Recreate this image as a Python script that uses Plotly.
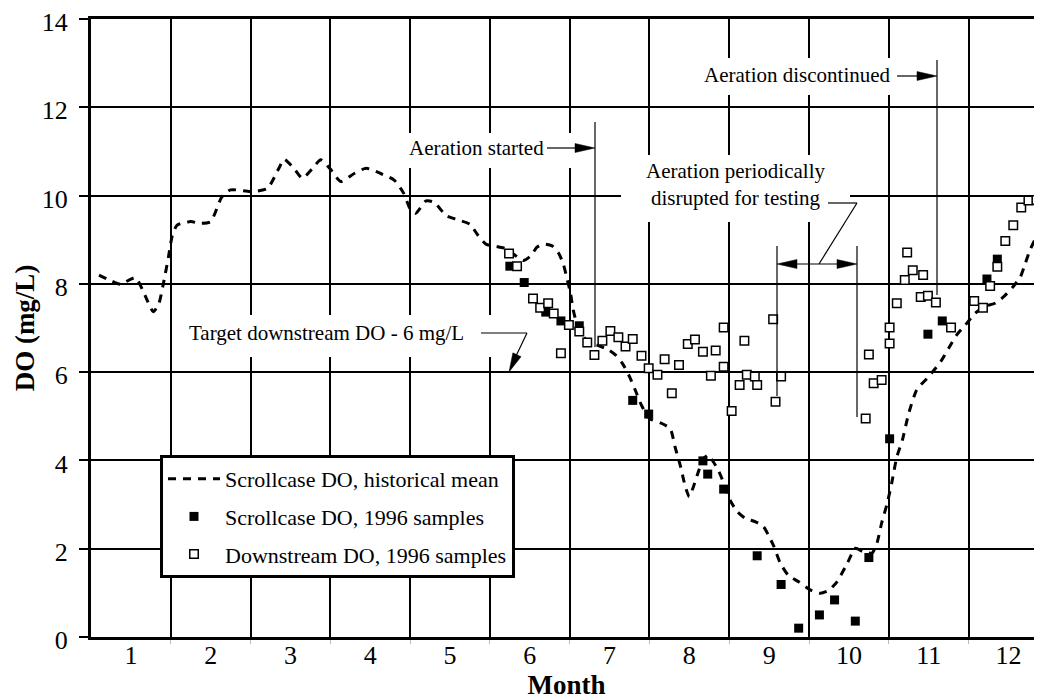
import plotly.graph_objects as go

# ---------------- data ----------------
month_ticks = list(range(1, 13))
month_labels = [str(m) for m in month_ticks]
y_ticks = [0, 2, 4, 6, 8, 10, 12, 14]

hist_month = [0.60, 0.75, 0.87, 0.97, 1.06, 1.15, 1.28, 1.35, 1.40, 1.47, 1.52, 1.58, 1.75, 1.87, 2.00,
              2.14, 2.25, 2.50, 2.71, 2.85, 2.92, 3.05, 3.15, 3.27, 3.38, 3.50, 3.63, 3.80, 3.95, 4.13,
              4.30, 4.42, 4.50, 4.57, 4.70, 4.80, 4.95, 5.10, 5.25, 5.35, 5.45, 5.60, 5.70, 5.85, 5.92,
              6.01, 6.09, 6.17, 6.28, 6.36, 6.42, 6.47, 6.51, 6.54, 6.58, 6.64, 6.75, 6.86, 6.99, 7.08,
              7.16, 7.25, 7.32, 7.40, 7.50, 7.64, 7.76, 7.82, 7.89, 7.95, 8.00, 8.05, 8.12, 8.18, 8.24,
              8.30, 8.37, 8.45, 8.51, 8.60, 8.70, 8.83, 8.93, 8.99, 9.06, 9.14, 9.24, 9.37, 9.52, 9.64,
              9.75, 9.85, 9.98, 10.08, 10.18, 10.29, 10.35, 10.41, 10.48, 10.54, 10.60, 10.67, 10.75,
              10.85, 11.00, 11.15, 11.25, 11.35, 11.46, 11.58, 11.69, 11.83, 11.94, 12.06, 12.15, 12.21,
              12.27, 12.34, 12.45]
hist_do = [8.20, 8.07, 7.99, 8.08, 8.14, 7.85, 7.37, 7.55, 7.94, 8.60, 9.10, 9.33, 9.41, 9.37, 9.41,
           9.97, 10.13, 10.09, 10.16, 10.60, 10.82, 10.60, 10.39, 10.60, 10.81, 10.60, 10.32, 10.50, 10.62, 10.50,
           10.35, 10.05, 9.70, 9.60, 9.88, 9.85, 9.55, 9.45, 9.35, 9.10, 8.90, 8.84, 8.80, 8.60, 8.53,
           8.63, 8.83, 8.90, 8.86, 8.70, 8.45, 8.09, 7.79, 7.45, 7.15, 6.88, 6.66, 6.60, 6.50, 6.38,
           6.20, 5.90, 5.60, 5.25, 4.95, 4.85, 4.72, 4.31, 3.86, 3.40, 3.18, 3.40, 3.78, 4.05, 4.12,
           3.97, 3.75, 3.40, 3.10, 2.84, 2.69, 2.61, 2.50, 2.31, 2.05, 1.67, 1.40, 1.25, 1.06, 0.99,
           1.06, 1.25, 1.67, 2.01, 1.93, 1.90, 2.12, 2.58, 3.03, 3.52, 4.08, 4.46, 5.07,
           5.60, 5.90, 6.24, 6.54, 6.84, 7.07, 7.33, 7.48, 7.56, 7.71, 7.94, 8.16, 8.46,
           8.77, 9.03, 9.35]

scroll_month = [5.75, 5.93, 6.20, 6.39, 6.62, 7.29, 7.49, 8.17, 8.23, 8.43, 8.85, 9.15, 9.37, 9.63,
                9.82, 10.08, 10.25, 10.51, 10.99, 11.17, 11.73, 11.86]
scroll_do = [8.40, 8.03, 7.36, 7.16, 7.05, 5.36, 5.05, 3.99, 3.69, 3.35, 1.84, 1.19, 0.20, 0.50,
             0.84, 0.36, 1.80, 4.49, 6.86, 7.16, 8.11, 8.56]

down_month = [5.74, 5.84, 6.04, 6.13, 6.23, 6.30, 6.39, 6.49, 6.62, 6.72, 6.81, 6.91, 7.01, 7.11,
              7.20, 7.29, 7.40, 7.49, 7.60, 7.69, 7.78, 7.87, 7.98, 8.07, 8.17, 8.27, 8.33, 8.43,
              8.43, 8.53, 8.63, 8.69, 8.72, 8.82, 8.85, 9.05, 9.08, 9.15, 10.21, 10.25, 10.31,
              10.41, 10.51, 10.51, 10.60, 10.70, 10.73, 10.80, 10.90, 10.93, 10.99, 11.09, 11.28,
              11.57, 11.68, 11.77, 11.86, 11.96, 12.06, 12.16, 12.25, 12.35, 12.43]
down_do = [8.69, 8.40, 7.67, 7.46, 7.56, 7.33, 6.43, 7.07, 6.92, 6.67, 6.39, 6.71, 6.93, 6.79,
           6.58, 6.75, 6.37, 6.09, 5.94, 6.29, 5.52, 6.16, 6.64, 6.74, 6.46, 5.92, 6.49, 7.01,
           6.12, 5.12, 5.71, 6.71, 5.94, 5.90, 5.71, 7.20, 5.33, 5.90, 4.95, 6.40, 5.75,
           5.82, 6.65, 7.01, 7.56, 8.09, 8.71, 8.31, 7.70, 8.20, 7.73, 7.58, 7.01,
           7.61, 7.46, 7.95, 8.39, 8.97, 9.33, 9.73, 9.89, 9.90, 10.04]

# ---------------- geometry ----------------
# page body has an 8px margin, so the figure is shifted by 8px in the window
OFF = 8
W, H = 1042 - OFF, 700 - OFF
# plot area in window pixels
PL, PT, PR, PB = 91, 19, 1042, 637
ML, MT = PL - OFF, PT - OFF
MR = W - (PR - OFF)
MB = H - (PB - OFF)
XR = [0.5, 12.42]
YR = [0, 14]
PW, PH = PR - PL, PB - PT


def dx(px):
    return XR[0] + (px - PL) / PW * (XR[1] - XR[0])


def dy(py):
    return YR[1] - (py - PT) / PH * (YR[1] - YR[0])


FONT = "Liberation Serif, Times New Roman, Times, serif"

fig = go.Figure()
fig.add_trace(go.Scatter(x=hist_month, y=hist_do, mode="lines", name="Scrollcase DO, historical mean",
                         line=dict(color="black", width=3, dash="8px,7px", shape="spline", smoothing=0.6),
                         legendgroup="a"))
fig.add_trace(go.Scatter(x=scroll_month, y=scroll_do, mode="markers", name="Scrollcase DO, 1996 samples",
                         marker=dict(symbol="square", size=9, color="black", line=dict(width=0)),
                         legendgroup="b"))
fig.add_trace(go.Scatter(x=down_month, y=down_do, mode="markers", name="Downstream DO, 1996 samples",
                         marker=dict(symbol="square", size=8.5, color="white", line=dict(color="black", width=1.5)),
                         legendgroup="c"))

shapes = []
# white boxes behind annotation texts (hide gridlines)
for (x0, y0, x1, y1) in [(176, 315, 500, 357), (400, 133, 590, 168), (621, 155, 850, 222), (700, 58, 895, 95)]:
    shapes.append(dict(type="rect", xref="x", yref="y", x0=dx(x0), x1=dx(x1), y0=dy(y0), y1=dy(y1),
                       fillcolor="white", line=dict(width=0), layer="between"))


def seg(p0, p1, w=1.2):
    shapes.append(dict(type="line", xref="x", yref="y", x0=dx(p0[0]), y0=dy(p0[1]), x1=dx(p1[0]), y1=dy(p1[1]),
                       line=dict(color="black", width=w), layer="above"))


def head(tip, base_c, half=4.5):
    tx, ty = tip
    bx, by = base_c
    vx, vy = tx - bx, ty - by
    L = (vx * vx + vy * vy) ** 0.5
    nx, ny = -vy / L, vx / L
    p1 = (bx + nx * half, by + ny * half)
    p2 = (bx - nx * half, by - ny * half)
    path = "M {},{} L {},{} L {},{} Z".format(dx(tx), dy(ty), dx(p1[0]), dy(p1[1]), dx(p2[0]), dy(p2[1]))
    shapes.append(dict(type="path", xref="x", yref="y", path=path, fillcolor="black",
                       line=dict(color="black", width=0.5), layer="above"))


# vertical event markers
seg((595, 122), (595, 347))
seg((937, 60), (937, 295))
seg((777, 246), (777, 396))
seg((857, 246), (857, 417))
# Aeration started arrow
seg((547, 148), (577, 148))
head((595, 148), (575, 148))
# Aeration discontinued arrow
seg((897, 76), (919, 76))
head((937, 76), (917, 76))
# Target leader + arrow
seg((481, 333), (527, 333))
seg((527, 333), (516, 356))
ux, uy = (509 - 527), (372 - 333)
ul = (ux * ux + uy * uy) ** 0.5
head((509, 372), (509 - ux / ul * 19, 372 - uy / ul * 19))
# disrupted leader + double arrow
seg((828, 203), (857, 203))
seg((857, 203), (819, 264))
seg((795, 264), (839, 264))
head((777, 264), (797, 264))
head((857, 264), (837, 264))

annots = []
for txt, cx, cy in [("Target downstream DO - 6 mg/L", 326.5, 333),
                    ("Aeration started", 476.5, 148),
                    ("Aeration periodically<br>disrupted for testing", 736, 184),
                    ("Aeration discontinued", 797.5, 75)]:
    annots.append(dict(x=dx(cx), y=dy(cy), xref="x", yref="y", text=txt, showarrow=False,
                       xanchor="center", yanchor="middle", font=dict(family=FONT, size=21, color="black")))

fig.update_layout(
    width=W, height=H,
    margin=dict(l=ML, r=MR, t=MT, b=MB, autoexpand=False),
    paper_bgcolor="white", plot_bgcolor="white",
    font=dict(family=FONT, color="black"),
    shapes=shapes, annotations=annots,
    legend=dict(x=(160 - PL) / PW, y=(PB - 455) / PH, xanchor="left", yanchor="top",
                bgcolor="white", bordercolor="black", borderwidth=3,
                font=dict(family=FONT, size=22, color="black"),
                itemwidth=52, traceorder="grouped", tracegroupgap=6),
    xaxis=dict(range=XR, tickmode="array", tickvals=month_ticks, ticktext=month_labels, ticks="",
               showgrid=False, zeroline=False, showline=True, linewidth=3, linecolor="black", mirror=True,
               tickfont=dict(family=FONT, size=26, color="black"), ticklabelstandoff=-7,
               ticklabeloverflow="allow",
               minor=dict(tickmode="array", tickvals=[m + 0.5 for m in month_ticks[:-1]], showgrid=True,
                          gridcolor="black", gridwidth=1.5, ticks="outside", ticklen=4, tickcolor="#bbbbbb"),
               title=dict(text="<b>Month</b>", font=dict(family=FONT, size=27, color="black"), standoff=13)),
    yaxis=dict(range=YR, tickmode="array", tickvals=y_ticks, ticks="outside", ticklen=9, tickwidth=1.5,
               tickcolor="black", showgrid=True, gridcolor="black", gridwidth=1.5, zeroline=False,
               showline=True, linewidth=3, linecolor="black", ticklabelstandoff=6, ticklabelshift=3,
               ticklabeloverflow="allow",
               tickfont=dict(family=FONT, size=26, color="black"),
               title=dict(text="<b>DO (mg/L)</b>", font=dict(family=FONT, size=27, color="black"), standoff=0)),
)

fig.write_html("out.html")
